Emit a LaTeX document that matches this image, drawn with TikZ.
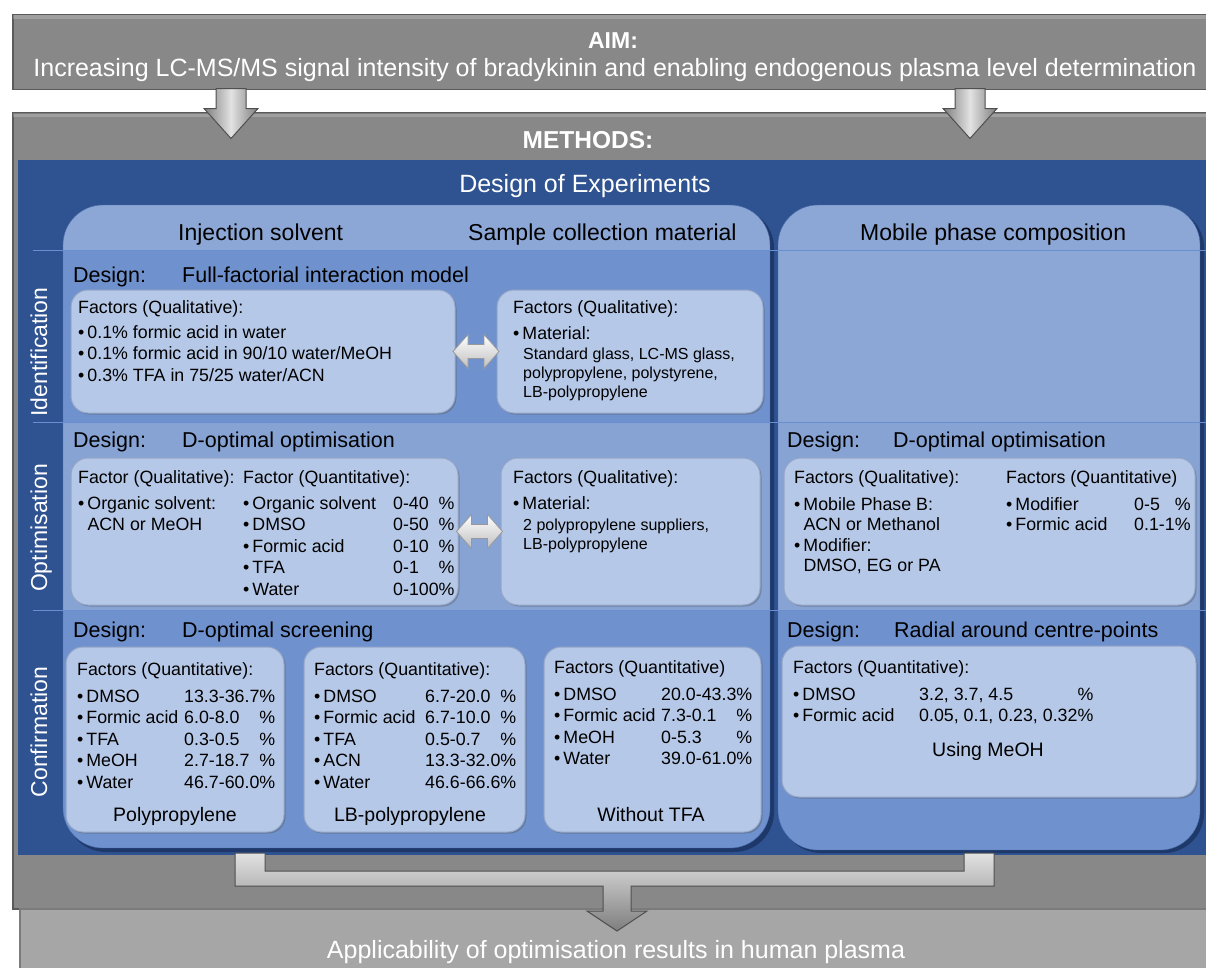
\documentclass[tikz,border=0pt]{standalone}
\usepackage{fontspec}
\setmainfont{Liberation Sans}
\usetikzlibrary{calc,shadows}

\definecolor{aimgray}{HTML}{888888}
\definecolor{edgegray}{HTML}{5A5A5A}
\definecolor{lowgray}{HTML}{A6A6A6}
\definecolor{doeblue}{HTML}{2F5290}
\definecolor{hdrblue}{HTML}{8CA7D5}
\definecolor{rowblue}{HTML}{6F92CE}
\definecolor{midblue}{HTML}{86A3D4}
\definecolor{boxfill}{HTML}{B6C8E7}
\definecolor{boxline}{HTML}{95A6C6}
\definecolor{sepline}{HTML}{6A8FD0}
\definecolor{colshadow}{HTML}{1E386A}
\definecolor{coledge}{HTML}{4A6DAE}
\definecolor{arrowdark}{HTML}{7E7E7E}
\definecolor{arrowlight}{HTML}{E2E2E2}
\definecolor{arrowedge}{HTML}{4F4F4F}

\newcommand\bul{\textbullet\hspace{3pt}}
\newcommand\bulind{\hspace{9.3pt}}

\tikzset{
  graybox/.style={fill=aimgray, draw=edgegray, line width=1.5pt, inner sep=0pt},
  lowbox/.style={fill=lowgray, draw=edgegray!80, line width=1.5pt, inner sep=0pt},
  facbox/.style={fill=boxfill, draw=boxline, line width=1pt, rounded corners=17pt, inner sep=0pt,
    drop shadow={shadow xshift=1.5pt, shadow yshift=-1.5pt, opacity=.35, fill=black!70}},
  toptext/.style={inner sep=0pt, text=white, font=\fontsize{25}{30}\selectfont},
  hdrtext/.style={anchor=base west, inner sep=0pt, font=\fontsize{23}{28}\selectfont},
  designtext/.style={anchor=base west, inner sep=0pt, font=\fontsize{21.5}{26}\selectfont},
  factext/.style={anchor=base west, inner sep=0pt, font=\fontsize{17.8}{21.5}\selectfont},
  mattext/.style={anchor=base west, inner sep=0pt, font=\fontsize{16}{19.2}\selectfont},
  rowlabel/.style={rotate=90, anchor=base, inner sep=0pt, text=white, font=\fontsize{23}{28}\selectfont},
  caption/.style={anchor=base, inner sep=0pt, font=\fontsize{19.5}{24}\selectfont},
  blockarrow/.style={draw=arrowedge, line width=1pt, left color=arrowdark, right color=arrowdark, middle color=arrowlight},
  forkarrow/.style={draw=arrowedge, line width=1pt, top color=arrowlight, bottom color=arrowdark},
  dblarrow/.style={draw=black!40, line width=.8pt, top color=white, bottom color=black!25},
  dnarrow/.pic={\draw[blockarrow] (-15,0) -- (15,0) -- (15,20) -- (27,20) -- (0,50) -- (-27,20) -- (-15,20) -- cycle;},
  lrarrow/.pic={\draw[dblarrow] (-23,0) -- (-8,-17) -- (-8,-7) -- (8,-7) -- (8,-17) -- (23,0) -- (8,17) -- (8,7) -- (-8,7) -- (-8,17) -- cycle;}
}

\begin{document}
\begin{tikzpicture}[x=1pt, y=-1pt]
\useasboundingbox (0,0) rectangle (1206,967);

% aim
\node[graybox, minimum width=1194, minimum height=75, anchor=north west] (aim) at (12,13.5) {};
\fill[white, opacity=.2] (13,15) rectangle (1206,19);
\node[toptext, anchor=base, font=\bfseries\fontsize{23}{28}\selectfont] (aimt) at (613,48) {AIM:};
\node[toptext, anchor=base] (aimtx) at (615,76) {Increasing LC-MS/MS signal intensity of bradykinin and enabling endogenous plasma level determination};

% methods
\node[graybox, minimum width=1194, minimum height=796, anchor=north west] (meth) at (12,112) {};
\fill[white, opacity=.2] (13,113) rectangle (1206,117);
\node[toptext, anchor=base, font=\bfseries\fontsize{24.5}{28}\selectfont] (metht) at (588,148) {METHODS:};
\node[fill=doeblue, inner sep=0pt, minimum width=1188, minimum height=695, anchor=north west] (doe) at (18,160) {};
\node[toptext, anchor=base] (doet) at (585,192) {Design of Experiments};

% left column
\fill[colshadow, rounded corners=40pt] (66,208) rectangle (774,852);
\begin{scope}
  \clip[rounded corners=40pt] (63,205) rectangle (770,848);
  \fill[hdrblue] (63,205) rectangle (770,250);
  \fill[rowblue] (63,250) rectangle (770,422);
  \fill[midblue] (63,422) rectangle (770,610);
  \fill[rowblue] (63,610) rectangle (770,848);
\end{scope}
\draw[coledge, rounded corners=40pt] (63,205) rectangle (770,848);

% right column
\fill[colshadow, rounded corners=40pt] (781,208) rectangle (1204,853);
\begin{scope}
  \clip[rounded corners=40pt] (778,205) rectangle (1200,850);
  \fill[hdrblue] (778,205) rectangle (1200,422);
  \fill[midblue] (778,422) rectangle (1200,610);
  \fill[rowblue] (778,610) rectangle (1200,850);
\end{scope}
\draw[coledge, rounded corners=40pt] (778,205) rectangle (1200,850);

% row lines
\draw[sepline, line width=1pt] (33,250) -- (1206,250);
\draw[sepline, line width=1pt] (33,422) -- (1206,422);
\draw[sepline, line width=1pt] (33,610) -- (1206,610);

\node[hdrtext] (hinj) at (178,240) {Injection solvent};
\node[hdrtext] (hmat) at (468,240) {Sample collection material};
\node[hdrtext] (hmob) at (860,240) {Mobile phase composition};

\node[rowlabel] (lbid) at (47,352) {Identification};
\node[rowlabel] (lbopt) at (47,528) {Optimisation};
\node[rowlabel] (lbcon) at (47,732) {Confirmation};

% identification
\node[designtext] (des1) at (73,282) {Design:};
\node[designtext] (des1v) at (182,282) {Full-factorial interaction model};
\node[facbox, minimum width=384, minimum height=123] (inj1) at (263,351.5) {};
\node[facbox, minimum width=266, minimum height=123] (mat1) at (630,351.5) {};
\pic at ($(inj1.east)!.5!(mat1.west)$) {lrarrow};
\node[factext] (inj1t) at (78,313) {Factors (Qualitative):};
\node[factext] (inj1l) at (78,338) {\begin{tabular}[t]{@{}l@{}}
  \bul 0.1\% formic acid in water\\
  \bul 0.1\% formic acid in 90/10 water/MeOH\\
  \bul 0.3\% TFA in 75/25 water/ACN\end{tabular}};
\node[factext] (mat1t) at (513,313) {Factors (Qualitative):};
\node[factext] (mat1l) at (513,339) {\bul Material:};
\node[mattext] (mat1v) at (523,359) {\begin{tabular}[t]{@{}l@{}}
  Standard glass, LC-MS glass,\\
  polypropylene, polystyrene,\\
  LB-polypropylene\end{tabular}};

% optimisation
\node[designtext] (des2) at (73,447) {Design:};
\node[designtext] (des2v) at (182,447) {D-optimal optimisation};
\node[facbox, minimum width=387, minimum height=147] (inj2) at (264.5,531.5) {};
\node[facbox, minimum width=259, minimum height=147] (mat2) at (630.5,531.5) {};
\pic at ($(inj2.east)!.5!(mat2.west)$) {lrarrow};
\node[factext] (inj2t) at (78,483) {Factor (Qualitative):};
\node[factext] (inj2l) at (78,509) {\begin{tabular}[t]{@{}l@{}}
  \bul Organic solvent:\\
  \bulind ACN or MeOH\end{tabular}};
\node[factext] (inj2q) at (243,483) {Factor (Quantitative):};
\node[factext] (inj2r) at (243,509) {\begin{tabular}[t]{@{}p{150pt}@{}l@{}l@{}}
  \bul Organic solvent & 0-40 & \%\\
  \bul DMSO & 0-50 & \%\\
  \bul Formic acid & 0-10 & \%\\
  \bul TFA & 0-1 & \%\\
  \bul Water & 0-100 & \%\end{tabular}};
\node[factext] (mat2t) at (513,483) {Factors (Qualitative):};
\node[factext] (mat2l) at (513,509) {\bul Material:};
\node[mattext] (mat2v) at (523,530) {\begin{tabular}[t]{@{}l@{}}
  2 polypropylene suppliers,\\
  LB-polypropylene\end{tabular}};

\node[designtext] (des4) at (787,447) {Design:};
\node[designtext] (des4v) at (893,447) {D-optimal optimisation};
\node[facbox, minimum width=411, minimum height=147] (mob2) at (989.5,531.5) {};
\node[factext] (mob2t) at (794,483) {Factors (Qualitative):};
\node[factext, font=\fontsize{17.8}{20.5}\selectfont] (mob2l) at (794,510) {\begin{tabular}[t]{@{}l@{}}
  \bul Mobile Phase B:\\
  \bulind ACN or Methanol\\
  \bul Modifier:\\
  \bulind DMSO, EG or PA\end{tabular}};
\node[factext] (mob2q) at (1006,483) {Factors (Quantitative)};
\node[factext, font=\fontsize{17.8}{20.5}\selectfont] (mob2r) at (1006,510) {\begin{tabular}[t]{@{}p{128pt}@{}l@{}l@{}}
  \bul Modifier & 0-5 & \%\\
  \bul Formic acid & 0.1-1 & \%\end{tabular}};

% confirmation
\node[designtext] (des3) at (73,637) {Design:};
\node[designtext] (des3v) at (182,637) {D-optimal screening};
\node[facbox, minimum width=218, minimum height=185] (con1) at (175,739.5) {};
\node[facbox, minimum width=221, minimum height=185] (con2) at (414.5,739.5) {};
\node[facbox, minimum width=217, minimum height=185] (con3) at (652.5,739.5) {};
\node[factext] (con1t) at (77,675) {Factors (Quantitative):};
\node[factext] (con1l) at (77,702) {\begin{tabular}[t]{@{}p{107pt}@{}l@{}l@{}}
  \bul DMSO & 13.3-36.7 & \%\\
  \bul Formic acid & 6.0-8.0 & \%\\
  \bul TFA & 0.3-0.5 & \%\\
  \bul MeOH & 2.7-18.7 & \%\\
  \bul Water & 46.7-60.0 & \%\end{tabular}};
\node[caption] (con1c) at (175,821) {Polypropylene};
\node[factext] (con2t) at (314,675) {Factors (Quantitative):};
\node[factext] (con2l) at (314,702) {\begin{tabular}[t]{@{}p{111pt}@{}l@{}l@{}}
  \bul DMSO & 6.7-20.0 & \%\\
  \bul Formic acid & 6.7-10.0 & \%\\
  \bul TFA & 0.5-0.7 & \%\\
  \bul ACN & 13.3-32.0 & \%\\
  \bul Water & 46.6-66.6 & \%\end{tabular}};
\node[caption] (con2c) at (410,821) {LB-polypropylene};
\node[factext] (con3t) at (554,673) {Factors (Quantitative)};
\node[factext] (con3l) at (554,700) {\begin{tabular}[t]{@{}p{107pt}@{}l@{}l@{}}
  \bul DMSO & 20.0-43.3 & \%\\
  \bul Formic acid & 7.3-0.1 & \%\\
  \bul MeOH & 0-5.3 & \%\\
  \bul Water & 39.0-61.0 & \%\end{tabular}};
\node[caption] (con3c) at (651,821) {Without TFA};

\node[designtext] (des5) at (787,637) {Design:};
\node[designtext] (des5v) at (894,637) {Radial around centre-points};
\node[facbox, minimum width=414, minimum height=151] (mob3) at (989,721.5) {};
\node[factext] (mob3t) at (793,673) {Factors (Quantitative):};
\node[factext] (mob3l) at (793,700) {\begin{tabular}[t]{@{}p{126pt}@{}l@{}l@{}}
  \bul DMSO & 3.2, 3.7, 4.5 & \%\\
  \bul Formic acid & 0.05, 0.1, 0.23, 0.32 & \%\end{tabular}};
\node[caption] (mob3c) at (988,756) {Using MeOH};

% result
\node[lowbox, minimum width=1188, minimum height=62, anchor=north west] (appl) at (19,908) {};
\node[toptext, anchor=base] (applt) at (616,958) {Applicability of optimisation results in human plasma};

% arrows
\coordinate (aimL) at (231,88.5);
\coordinate (aimR) at (970,88.5);
\pic at (aimL) {dnarrow};
\pic at (aimR) {dnarrow};
\draw[forkarrow] (235,853) -- (235,886) -- (603,886) -- (603,911) -- (587,911) -- (617,931)
  -- (647,911) -- (631,911) -- (631,886) -- (994,886) -- (994,853) -- (964,853)
  -- (964,871) -- (265,871) -- (265,853) -- cycle;
\end{tikzpicture}
\end{document}
